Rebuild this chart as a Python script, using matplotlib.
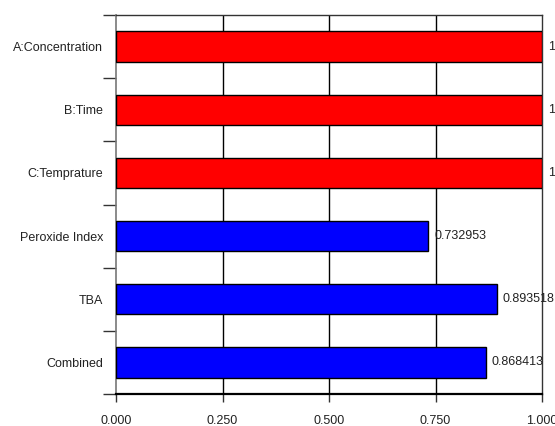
import matplotlib
matplotlib.use("Agg")
import matplotlib.pyplot as plt

plt.rcParams['font.family'] = ['Liberation Sans', 'DejaVu Sans']

factors = ["A:Concentration", "B:Time", "C:Temprature",
           "Peroxide Index", "TBA", "Combined"]
desirability = [1.0, 1.0, 1.0, 0.732953, 0.893518, 0.868413]
value_labels = ["1", "1", "1", "0.732953", "0.893518", "0.868413"]
bar_colors = ["#ff0000", "#ff0000", "#ff0000", "#0000ff", "#0000ff", "#0000ff"]
x_ticks = [0.0, 0.25, 0.5, 0.75, 1.0]

fig = plt.figure(figsize=(5.55, 4.26), dpi=100)
ax = fig.add_axes([116 / 555, 1 - 394 / 426, 426 / 555, 379 / 426])

ypos = list(range(len(factors), 0, -1))  # first category on top
ax.barh(ypos, desirability, height=0.48, color=bar_colors,
        edgecolor="black", linewidth=1, zorder=3)

for y, v, lab in zip(ypos, desirability, value_labels):
    ax.text(v + 0.014, y, lab, va="center", ha="left", fontsize=9,
            color="#222222", clip_on=False)

ax.set_xlim(0, 1)
ax.set_ylim(0.5, len(factors) + 0.5)

# x axis
ax.set_xticks(x_ticks)
ax.set_xticklabels(["%.3f" % t for t in x_ticks], fontsize=9, color="#222222")
ax.tick_params(axis="x", length=5.8, width=1, color="#333333", pad=9.5)
for t in x_ticks[1:-1]:
    ax.axvline(t, color="black", linewidth=1, zorder=1)

# y axis: ticks on category boundaries, labels in between
ax.set_yticks([i + 0.5 for i in range(len(factors) + 1)])
ax.set_yticklabels([])
ax.set_yticks(ypos, minor=True)
ax.set_yticklabels(factors, minor=True, fontsize=9, color="#222222")
ax.tick_params(axis="y", which="major", length=9.4, width=1, color="#333333")
ax.tick_params(axis="y", which="minor", length=0, pad=9.4)

for side in ["top", "right"]:
    ax.spines[side].set_color("#333333")
    ax.spines[side].set_linewidth(1)
ax.spines["bottom"].set_color("black")
ax.spines["bottom"].set_linewidth(1.6)
ax.spines["left"].set_color("#777777")
ax.spines["left"].set_linewidth(1.2)

fig.savefig("out.png", dpi=100, facecolor="white")
